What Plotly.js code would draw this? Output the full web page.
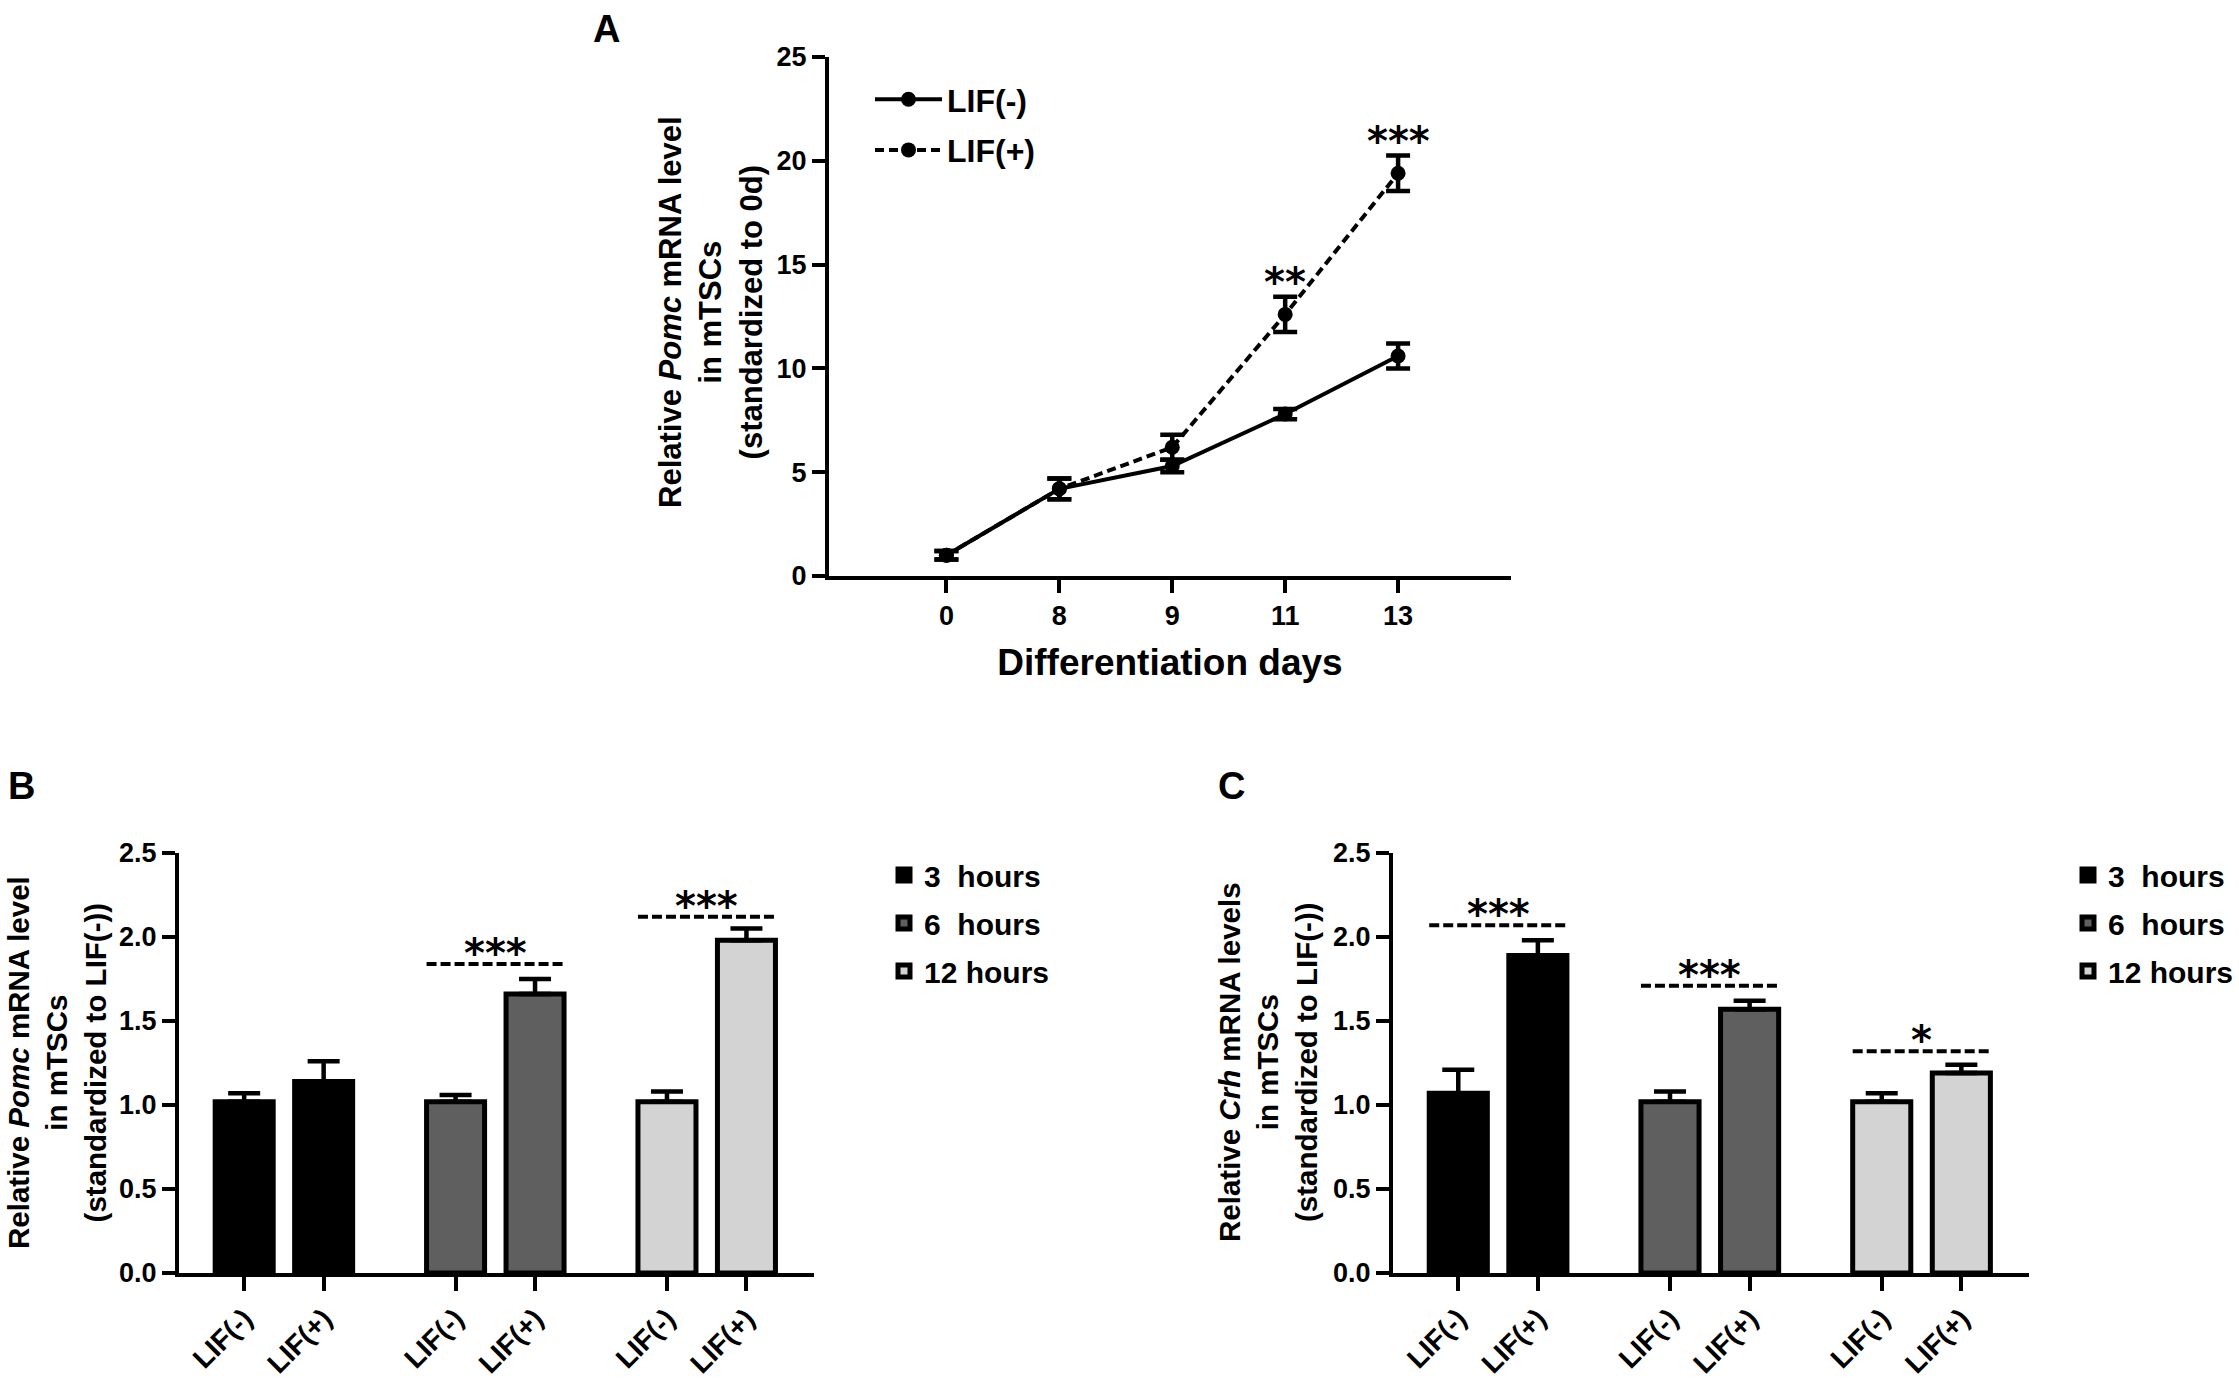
<!DOCTYPE html>
<html>
<head>
<meta charset="utf-8">
<script src="https://cdn.plot.ly/plotly-3.0.1.min.js"></script>
<style>html,body{margin:0;padding:0;background:#fff;}#chart{width:2239px;height:1378px;}</style>
</head>
<body>
<div id="chart"></div>
<script>
// ---------- Data: panel A ----------
const days = ['0', '8', '9', '11', '13'];
const lifMinus = [1.0, 4.2, 5.3, 7.8, 10.6];
const lifMinusErr = [0.2, 0.5, 0.3, 0.25, 0.6];
const lifPlus = [1.0, 4.2, 6.2, 12.6, 19.4];
const lifPlusErr = [0.2, 0.5, 0.6, 0.85, 0.85];
const sigA = ['', '', '', '**', '***'];

// ---------- Data: panels B and C ----------
const lifLabels = ['LIF(-)', 'LIF(+)'];
const timeNames = ['3\u00a0\u00a0hours', '6\u00a0\u00a0hours', '12 hours'];
const timeColors = ['#000000', '#5f5f5f', '#d3d3d3'];

const pomc3h = [1.02, 1.14];
const pomc6h = [1.02, 1.66];
const pomc12h = [1.02, 1.98];
const pomc3hErr = [0.05, 0.12];
const pomc6hErr = [0.04, 0.09];
const pomc12hErr = [0.06, 0.07];
const pomcSigLevel = [null, 1.84, 2.12];
const pomcSigText = ['', '***', '***'];

const crh3h = [1.07, 1.89];
const crh6h = [1.02, 1.57];
const crh12h = [1.02, 1.19];
const crh3hErr = [0.14, 0.09];
const crh6hErr = [0.06, 0.05];
const crh12hErr = [0.05, 0.05];
const crhSigLevel = [2.07, 1.71, 1.32];
const crhSigText = ['***', '***', '*'];

// ---------- Styling ----------
const FONT = 'Liberation Sans, Arial, sans-serif';
const STAR_FONT = 'DejaVu Sans, sans-serif';
const GROUP_STEP = 2.66;
const BAR_W = 0.73;

const traces = [];

// Panel A lines
traces.push({
  x: days, y: lifMinus, type: 'scatter', mode: 'lines+markers', name: 'LIF(-)',
  xaxis: 'x', yaxis: 'y', legend: 'legend', legendgroup: 'a1',
  line: {color: '#000', width: 4},
  marker: {color: '#000', size: 15, symbol: 'circle'},
  error_y: {type: 'data', array: lifMinusErr, visible: true, color: '#000', thickness: 4.5, width: 12}
});
traces.push({
  x: days, y: lifPlus, type: 'scatter', mode: 'lines+markers', name: 'LIF(+)',
  xaxis: 'x', yaxis: 'y', legend: 'legend', legendgroup: 'a2',
  line: {color: '#000', width: 4, dash: '9px,5px'},
  marker: {color: '#000', size: 15, symbol: 'circle'},
  error_y: {type: 'data', array: lifPlusErr, visible: true, color: '#000', thickness: 4.5, width: 12}
});

function barPanel(vals, errs, xa, ya, legendId, sigLevel) {
  const tickvals = [], ticktext = [];
  vals.forEach((v, g) => {
    const xs = lifLabels.map((_, b) => g * GROUP_STEP + b);
    xs.forEach((x, b) => { tickvals.push(x); ticktext.push(lifLabels[b]); });
    traces.push({
      x: xs, y: v, type: 'bar', name: timeNames[g], width: BAR_W,
      xaxis: xa, yaxis: ya, legend: legendId, legendgroup: legendId + g,
      marker: {color: timeColors[g], line: {color: '#000', width: 5}},
      error_y: {type: 'data', symmetric: false, array: errs[g], arrayminus: errs[g].map(() => 0),
                visible: true, color: '#000', thickness: 4.5, width: 16}
    });
    if (sigLevel[g] !== null) {
      traces.push({
        x: [xs[0] - BAR_W / 2, xs[1] + BAR_W / 2], y: [sigLevel[g], sigLevel[g]],
        type: 'scatter', mode: 'lines', showlegend: false, hoverinfo: 'skip',
        xaxis: xa, yaxis: ya, line: {color: '#000', width: 4, dash: '10px,4px'}
      });
    }
  });
  return {tickvals, ticktext};
}

const tB = barPanel([pomc3h, pomc6h, pomc12h], [pomc3hErr, pomc6hErr, pomc12hErr], 'x2', 'y2', 'legend2', pomcSigLevel);
const tC = barPanel([crh3h, crh6h, crh12h], [crh3hErr, crh6hErr, crh12hErr], 'x3', 'y3', 'legend3', crhSigLevel);

// ---------- Annotations ----------
const starFont = {family: STAR_FONT, size: 40, color: '#000', weight: 'bold'};
const annotations = [];
sigA.forEach((s, i) => {
  if (!s) return;
  annotations.push({xref: 'x', yref: 'y', x: i, y: lifPlus[i] + lifPlusErr[i], text: s,
    showarrow: false, yanchor: 'bottom', yshift: -10, font: starFont});
});
function sigAnn(levels, texts, xa, ya) {
  levels.forEach((lv, g) => {
    if (lv === null) return;
    annotations.push({xref: xa, yref: ya, x: g * GROUP_STEP + 0.5, y: lv, text: texts[g],
      showarrow: false, yanchor: 'bottom', yshift: -14, font: starFont});
  });
}
sigAnn(pomcSigLevel, pomcSigText, 'x2', 'y2');
sigAnn(crhSigLevel, crhSigText, 'x3', 'y3');

const titleFont = {family: FONT, size: 31, color: '#000', weight: 'bold'};
const titleFontBC = {family: FONT, size: 29.5, color: '#000', weight: 'bold'};
annotations.push({xref: 'paper', yref: 'paper', x: 711 / 2239, y: 1 - 312 / 1378, textangle: -90,
  text: 'Relative <i>Pomc</i> mRNA level<br>in mTSCs<br>(standardized to 0d)',
  showarrow: false, xanchor: 'center', yanchor: 'middle', font: titleFont});
annotations.push({xref: 'paper', yref: 'paper', x: 57 / 2239, y: 1 - 1063 / 1378, textangle: -90,
  text: 'Relative <i>Pomc</i> mRNA level<br>in mTSCs<br>(standardized to LIF(-))',
  showarrow: false, xanchor: 'center', yanchor: 'middle', font: titleFontBC});
annotations.push({xref: 'paper', yref: 'paper', x: 1268 / 2239, y: 1 - 1062 / 1378, textangle: -90,
  text: 'Relative <i>Crh</i> mRNA levels<br>in mTSCs<br>(standardized to LIF(-))',
  showarrow: false, xanchor: 'center', yanchor: 'middle', font: titleFontBC});

const panelFont = {family: FONT, size: 38, color: '#000', weight: 'bold'};
[['A', 606, 29], ['B', 21, 786], ['C', 1231, 786]].forEach(p => {
  annotations.push({xref: 'paper', yref: 'paper', x: p[1] / 2239, y: 1 - p[2] / 1378, text: p[0],
    showarrow: false, xanchor: 'center', yanchor: 'middle', font: panelFont});
});

// ---------- Axes ----------
const tickFont = {family: FONT, size: 27, color: '#000', weight: 'bold'};
const axBase = {showline: true, linewidth: 4, linecolor: '#000', ticks: 'outside', ticklen: 13,
  tickwidth: 4, tickcolor: '#000', showgrid: false, zeroline: false, tickfont: tickFont, fixedrange: true};

const layout = {
  width: 2239, height: 1378, margin: {l: 0, r: 0, t: 0, b: 0},
  paper_bgcolor: '#fff', plot_bgcolor: '#fff', showlegend: true,
  font: {family: FONT, color: '#000'},
  xaxis: Object.assign({}, axBase, {domain: [829 / 2239, 1511 / 2239], anchor: 'y', type: 'category',
    range: [-1.04, 5.0], categoryorder: 'array', categoryarray: days,
    title: {text: 'Differentiation days', standoff: 20, font: {family: FONT, size: 37, color: '#000', weight: 'bold'}}}),
  yaxis: Object.assign({}, axBase, {domain: [(1378 - 576) / 1378, (1378 - 57) / 1378], anchor: 'x',
    range: [0, 25], dtick: 5, tick0: 0}),
  xaxis2: Object.assign({}, axBase, {domain: [179 / 2239, 814 / 2239], anchor: 'y2',
    range: [-0.82, 7.17], tickmode: 'array', tickvals: tB.tickvals, ticktext: tB.ticktext, tickangle: -45, ticklen: 14,
    tickfont: Object.assign({}, tickFont, {size: 28})}),
  yaxis2: Object.assign({}, axBase, {domain: [(1378 - 1273) / 1378, (1378 - 853) / 1378], anchor: 'x2',
    range: [0, 2.5], dtick: 0.5, tick0: 0, tickformat: '.1f'}),
  xaxis3: Object.assign({}, axBase, {domain: [1393 / 2239, 2029 / 2239], anchor: 'y3',
    range: [-0.82, 7.17], tickmode: 'array', tickvals: tC.tickvals, ticktext: tC.ticktext, tickangle: -45, ticklen: 14,
    tickfont: Object.assign({}, tickFont, {size: 28})}),
  yaxis3: Object.assign({}, axBase, {domain: [(1378 - 1273) / 1378, (1378 - 853) / 1378], anchor: 'x3',
    range: [0, 2.5], dtick: 0.5, tick0: 0, tickformat: '.1f'}),
  legend: {x: 870 / 2239, y: 1 - 72 / 1378, xanchor: 'left', yanchor: 'top', bgcolor: 'rgba(0,0,0,0)',
    tracegroupgap: 6, itemwidth: 67, font: {family: FONT, size: 32, color: '#000', weight: 'bold'}},
  legend2: {x: 884 / 2239, y: 1 - 849 / 1378, xanchor: 'left', yanchor: 'top', bgcolor: 'rgba(0,0,0,0)',
    tracegroupgap: 6, font: {family: FONT, size: 30, color: '#000', weight: 'bold'}},
  legend3: {x: 2068 / 2239, y: 1 - 849 / 1378, xanchor: 'left', yanchor: 'top', bgcolor: 'rgba(0,0,0,0)',
    tracegroupgap: 6, font: {family: FONT, size: 30, color: '#000', weight: 'bold'}},
  annotations: annotations,
  bargap: 0
};

Plotly.newPlot('chart', traces, layout, {displayModeBar: false, staticPlot: true});
</script>
</body>
</html>
